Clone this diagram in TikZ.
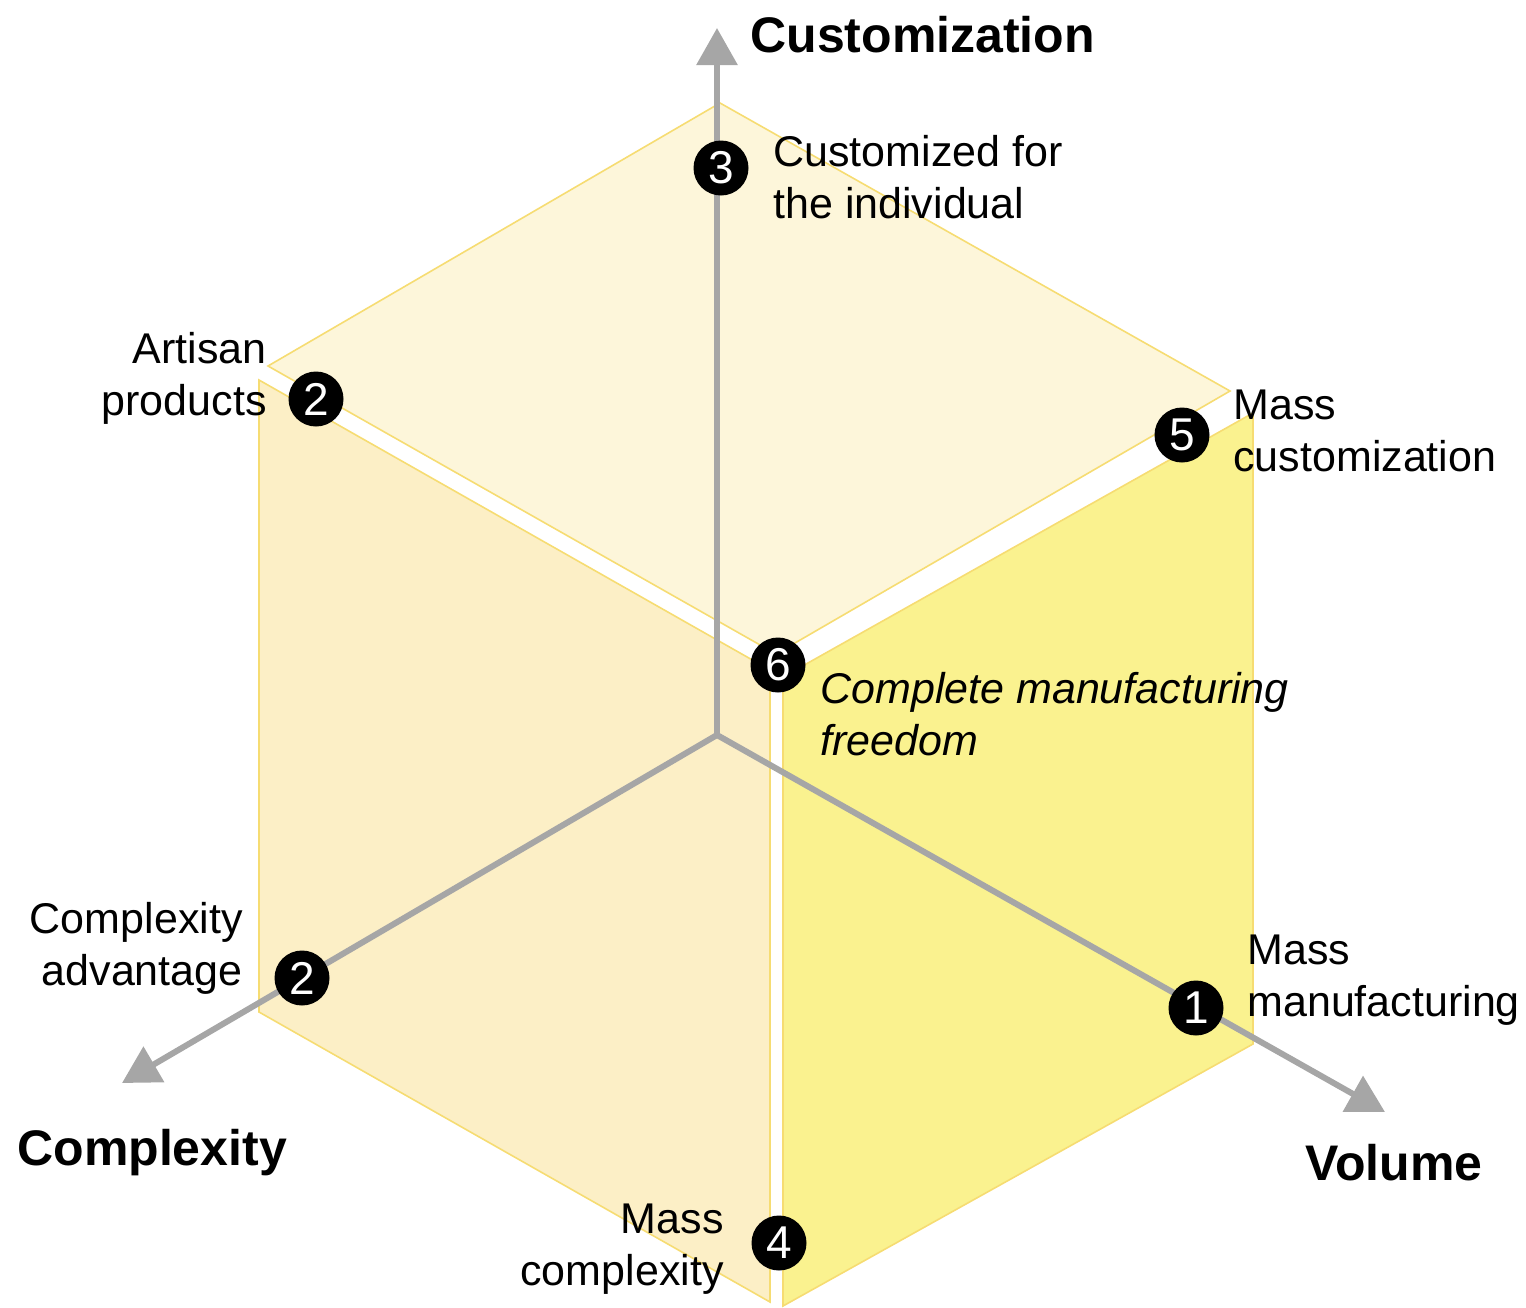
\documentclass[tikz,border=0pt]{standalone}
\usepackage{fontspec}
\setmainfont{Liberation Sans}
\usepackage{xcolor}
\usetikzlibrary{arrows.meta}

\definecolor{topface}{HTML}{FDF6DA}
\definecolor{leftface}{HTML}{FCEFC6}
\definecolor{rightface}{HTML}{FAF28F}
\definecolor{faceedge}{HTML}{F6DC72}
\definecolor{axisgray}{HTML}{A6A6A6}

\begin{document}
\begin{tikzpicture}[
    x=0.5pt,y=-0.5pt,
    face/.style={draw=faceedge,line width=0.8pt},
    axis/.style={axisgray,line width=3pt,-{Triangle[width=20pt,length=18.5pt]}},
    marker/.style={circle,fill=black,text=white,inner sep=0pt,
        minimum size=27.5pt,font=\fontsize{23}{23}\selectfont},
    label/.style={font=\fontsize{21.5}{26}\selectfont,inner sep=0pt},
    axislabel/.style={font=\fontsize{25}{30}\selectfont\bfseries,inner sep=0pt}
]

    \useasboundingbox (0,0) rectangle (1526,1307);

    %------------------------------------------------
    % Exploded cube faces
    %------------------------------------------------

    \filldraw[face,fill=topface]
        (720,103)--(1230,391)--(776,654)--(268,366)--cycle;

    \filldraw[face,fill=leftface]
        (259,380)--(770,670)--(770,1302)--(259,1012)--cycle;

    \filldraw[face,fill=rightface]
        (783,677)--(1253,413)--(1253,1044)--(783,1306)--cycle;

    %------------------------------------------------
    % Axes
    %------------------------------------------------

    \coordinate (origin) at (717,735);
    \coordinate (custTip) at (717,28);
    \coordinate (cplxTip) at (122,1083);
    \coordinate (volTip) at (1385,1112);

    \draw[axis] (origin)--(custTip);
    \draw[axis] (origin)--(cplxTip);
    \draw[axis] (origin)--(volTip);

    \node[axislabel,anchor=base west] (custLabel)
        at (750,52) {Customization};

    \node[axislabel,anchor=base west] (cplxLabel)
        at (17,1165) {Complexity};

    \node[axislabel,anchor=base west] (volLabel)
        at (1305,1180) {Volume};

    %------------------------------------------------
    % Numbered markers
    %------------------------------------------------

    \node[marker] (m3) at (721,168) {3};
    \node[marker] (m2a) at (316,399) {2};
    \node[marker] (m5) at (1182,435) {5};
    \node[marker] (m6) at (778,665) {6};
    \node[marker] (m2b) at (302,978) {2};
    \node[marker] (m1) at (1196,1008) {1};
    \node[marker] (m4) at (779,1243) {4};

    %------------------------------------------------
    % Labels (base = last line)
    %------------------------------------------------

    \node[label,align=left,anchor=base west] (l3)
        at (773,218) {Customized for\\the individual};

    \node[label,align=right,anchor=base east] (l2a)
        at (267,415) {Artisan\\products};

    \node[label,align=left,anchor=base west] (l5)
        at (1233,471) {Mass\\customization};

    \node[label,align=left,anchor=base west,font=\fontsize{21.5}{26}\selectfont\itshape] (l6)
        at (820,755) {Complete manufacturing\\freedom};

    \node[label,align=right,anchor=base east] (l2b)
        at (243,985) {Complexity\\advantage};

    \node[label,align=left,anchor=base west] (l1)
        at (1247,1016) {Mass\\manufacturing};

    \node[label,align=right,anchor=base east] (l4)
        at (724,1285) {Mass\\complexity};

\end{tikzpicture}
\end{document}
